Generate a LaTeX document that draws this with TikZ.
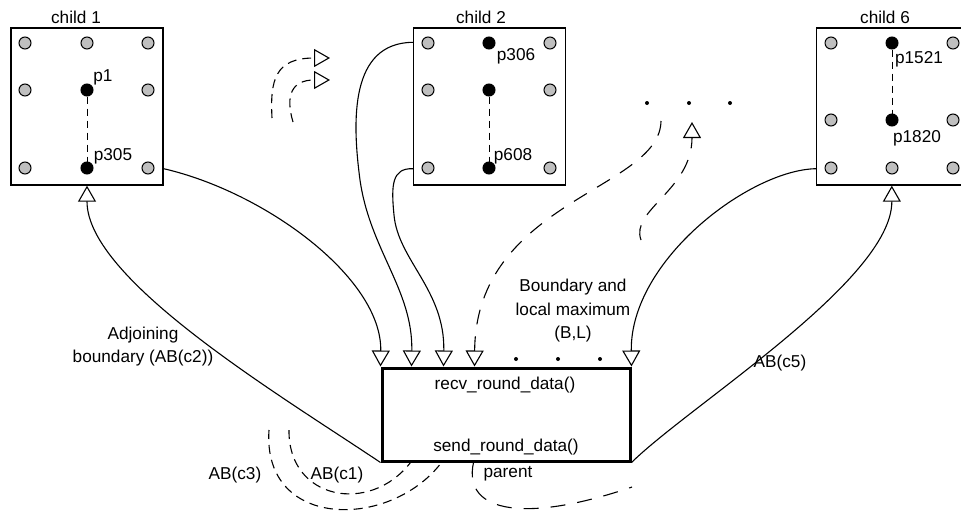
\documentclass[tikz,border=0pt]{standalone}
\usepackage{fontspec}
\setmainfont{Liberation Sans}
\usetikzlibrary{arrows.meta,calc}
\begin{document}
\begin{tikzpicture}[x=1pt,y=-1pt,
  lbl/.style={font=\fontsize{17.2}{23.5}\selectfont, inner sep=0pt, align=center},
  childbox/.style={draw, line width=1.4pt, minimum width=152pt, minimum height=157pt, inner sep=0pt},
  parbox/.style={draw, line width=3pt, minimum width=248pt, minimum height=93pt, inner sep=0pt},
  gdot/.style={circle, draw, line width=1pt, fill=gray!50, minimum size=12pt, inner sep=0pt},
  bdot/.style={circle, draw, line width=1pt, fill=black, minimum size=12pt, inner sep=0pt},
  sdot/.style={circle, fill=black, minimum size=4pt, inner sep=0pt},
  conn/.style={line width=1.1pt},
  tipo/.style={-{Triangle[open,length=16pt,width=18pt]}},
  inlink/.style={line width=1pt, dash pattern=on 7pt off 5pt},
  sdash/.style={line width=1.1pt, dash pattern=on 9pt off 6pt},
  ldash/.style={line width=1.1pt, dash pattern=on 15pt off 12pt}
]
\useasboundingbox (0,0) rectangle (961,517);

% ---------- child 1 ----------
\node[childbox] (ch1) at (87,106.5) {};
\node[lbl] (t1) at (76,17) {child 1};
\node[gdot] (a11) at (25,43) {};
\node[gdot] (a21) at (87,43) {};
\node[gdot] (a31) at (148,43) {};
\node[gdot] (a12) at (25,90) {};
\node[gdot] (a32) at (148,90) {};
\node[gdot] (a13) at (25,168) {};
\node[gdot] (a33) at (148,168) {};
\node[bdot] (p1) at (87,90) {};
\node[bdot] (p305) at (87,168) {};
\draw[inlink] (p1) -- (p305);
\node[lbl] (lp1) at (103,77) {p1};
\node[lbl] (lp305) at (113,156) {p305};

% ---------- child 2 ----------
\node[childbox] (ch2) at (489.5,106.5) {};
\node[lbl] (t2) at (481,17) {child 2};
\node[gdot] (b11) at (428,43) {};
\node[gdot] (b31) at (550,43) {};
\node[gdot] (b12) at (428,90) {};
\node[gdot] (b32) at (550,90) {};
\node[gdot] (b13) at (428,168) {};
\node[gdot] (b33) at (550,168) {};
\node[bdot] (p306) at (489,43) {};
\node[bdot] (pmid) at (489,90) {};
\node[bdot] (p608) at (489,168) {};
\draw[inlink] (pmid) -- (p608);
\node[lbl] (lp306) at (516,56) {p306};
\node[lbl] (lp608) at (513,156) {p608};

% ---------- child 6 ----------
\node[childbox] (ch6) at (892.5,106.5) {};
\node[lbl] (t6) at (885,17) {child 6};
\node[gdot] (d11) at (831,43) {};
\node[gdot] (d31) at (953,43) {};
\node[gdot] (d12) at (831,120) {};
\node[gdot] (d32) at (953,120) {};
\node[gdot] (d13) at (831,168) {};
\node[gdot] (d23) at (892,168) {};
\node[gdot] (d33) at (953,168) {};
\node[bdot] (p1521) at (892,43) {};
\node[bdot] (p1820) at (892,120) {};
\draw[inlink] (p1521) -- (p1820);
\node[lbl] (lp1521) at (919,59) {p1521};
\node[lbl] (lp1820) at (917,138) {p1820};

% ---------- parent ----------
\node[parbox] (par) at (506,414.5) {};
\node[lbl] (recv) at (505,385) {recv\_round\_data()};
\node[lbl] (send) at (506,447) {send\_round\_data()};
\node[lbl] (lpar) at (508,474) {parent};

% dots
\node[sdot] (u1) at (647,103) {};
\node[sdot] (u2) at (689,103) {};
\node[sdot] (u3) at (730,103) {};
\node[sdot] (v1) at (516,359) {};
\node[sdot] (v2) at (558,359) {};
\node[sdot] (v3) at (600,359) {};

% connection coordinates
\coordinate (c1out) at ($(ch1.south east)+(0,-17)$);
\coordinate (c1in) at (ch1.south);
\coordinate (c2outa) at ($(ch2.north west)+(0,15)$);
\coordinate (c2outb) at ($(ch2.south west)+(0,-17)$);
\coordinate (c6out) at ($(ch6.south west)+(0,-17)$);
\coordinate (c6in) at ($(ch6.south west)+(76,0)$);
\coordinate (in1) at (par.north west);
\coordinate (in2) at ($(par.north west)+(31,0)$);
\coordinate (in3) at ($(par.north west)+(63,0)$);
\coordinate (in4) at ($(par.north west)+(94,0)$);
\coordinate (in5) at (par.north east);
\coordinate (bl) at (par.south west);
\coordinate (br) at (par.south east);
\coordinate (bc1) at ($(par.south west)+(30,0)$);
\coordinate (bc3) at ($(par.south west)+(61,0)$);
\coordinate (bpa) at ($(par.south west)+(93,0)$);

% free ends
\coordinate (f1) at (661,121);
\coordinate (f2s) at (641,240);
\coordinate (f2t) at (692,122);
\coordinate (f3s) at (272,118);
\coordinate (f3t) at (330,58);
\coordinate (f4s) at (293,122);
\coordinate (f4t) at (330,80);
\coordinate (fc1) at (289,430);
\coordinate (fc3) at (269,430);
\coordinate (fpa) at (632,487);

% solid connectors
\draw[conn,tipo] (c1out) .. controls (265,192) and (382,278) .. (in1);
\draw[conn,tipo] (c2outa) .. controls (350,43) and (352,120) .. (360,180)
   .. controls (370,250) and (413,290) .. (in2);
\draw[conn,tipo] (c2outb) .. controls (392,168) and (391,185) .. (394,215)
   .. controls (398,260) and (445,290) .. (in3);
\draw[conn,tipo] (c6out) .. controls (750,170) and (630,260) .. (in5);
\draw[conn,tipo] (bl) .. controls (280,395) and (87,280) .. (c1in);
\draw[conn,tipo] (br) .. controls (690,405) and (892,280) .. (c6in);

% dashed connectors
\draw[ldash,tipo] (f1) .. controls (660,190) and (476,200) .. (in4);
\draw[ldash,tipo] (f2s) .. controls (630,210) and (692,190) .. (f2t);
\draw[sdash,tipo] (f3s) .. controls (270,80) and (275,58) .. (f3t);
\draw[sdash,tipo] (f4s) .. controls (285,95) and (292,80) .. (f4t);
\draw[sdash] (fc1) .. controls (288,500) and (370,515) .. (bc1);
\draw[sdash] (fc3) .. controls (262,530) and (390,530) .. (bc3);
\draw[ldash] (bpa) .. controls (462,515) and (530,522) .. (fpa);

% labels
\node[lbl] (ladj) at (143,346.5) {Adjoining\\boundary (AB(c2))};
\node[lbl] (lbnd) at (573,311) {Boundary and\\local maximum\\(B,L)};
\node[lbl] (lc5) at (780,363) {AB(c5)};
\node[lbl] (lc3) at (235,475) {AB(c3)};
\node[lbl] (lc1) at (337,475) {AB(c1)};
\end{tikzpicture}
\end{document}
